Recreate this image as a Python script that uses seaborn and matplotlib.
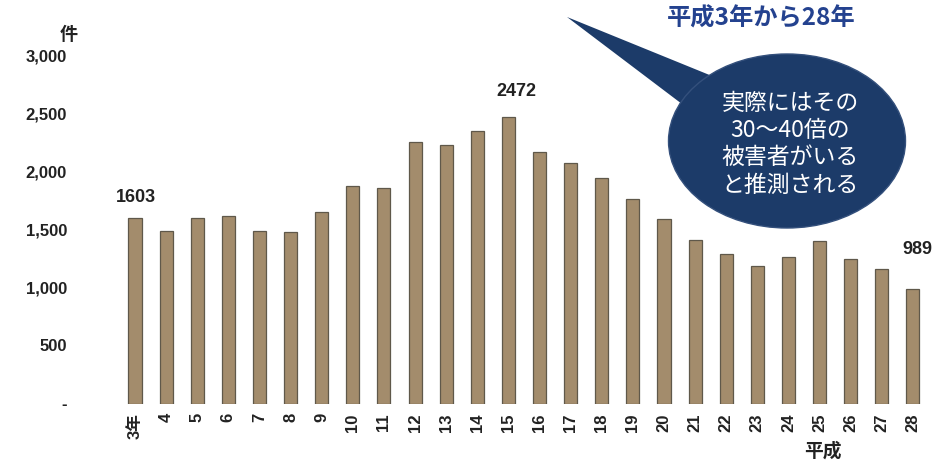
import matplotlib
matplotlib.use("Agg")
import matplotlib.pyplot as plt
import seaborn as sns
import pandas as pd
from matplotlib.patches import Ellipse, Polygon

# 認知件数（平成3年〜28年）
years = ["3年", "4", "5", "6", "7", "8", "9", "10", "11", "12", "13", "14", "15",
         "16", "17", "18", "19", "20", "21", "22", "23", "24", "25", "26", "27", "28"]
cases = [1603, 1490, 1600, 1615, 1487, 1478, 1651, 1875, 1858, 2254, 2228, 2349, 2472,
         2168, 2073, 1944, 1763, 1591, 1409, 1289, 1185, 1263, 1401, 1246, 1159, 989]
labeled_years = ["3年", "15", "28"]

y_ticks = [0, 500, 1000, 1500, 2000, 2500, 3000]
y_tick_labels = ["-", "500", "1,000", "1,500", "2,000", "2,500", "3,000"]

title_text = "平成3年から28年"
bubble_text = "実際にはその\n30～40倍の\n被害者がいる\nと推測される"
unit_text = "件"
era_text = "平成"

df = pd.DataFrame({"year": years, "cases": cases})

sns.set_theme(style="white")
plt.rcParams["font.family"] = ["Liberation Sans", "Noto Sans CJK JP", "DejaVu Sans"]

W, H = 952, 462
fig = plt.figure(figsize=(W / 100, H / 100), dpi=100)


def fx(px):
    return px / W


def fy(py):
    return 1 - py / H


ax = fig.add_axes([fx(110), fy(403.5), fx(940) - fx(110), fy(40) - fy(403.5)])

sns.barplot(data=df, x="year", y="cases", color="#a38c6c", saturation=1,
            width=0.42, edgecolor="#5f584a", linewidth=0.9, ax=ax)

ax.set_xlim(-0.804, 25.87)
ax.set_ylim(0, 3133)
sns.despine(ax=ax, left=True, bottom=True)
ax.set_xlabel("")
ax.set_ylabel("")
ax.tick_params(axis="both", length=0)
ax.tick_params(axis="x", pad=7)
ax.tick_params(axis="y", pad=31)

ax.set_yticks(y_ticks)
ax.set_yticklabels(y_tick_labels, fontsize=12, fontweight="bold", color="#222222",
                   family=["Liberation Sans", "DejaVu Sans"])
ax.set_xticks(range(len(years)))
ax.set_xticklabels(years, rotation=90, fontsize=12, fontweight="bold", color="#222222",
                   family=["Liberation Sans", "Noto Sans CJK JP"])

# value labels above selected bars (offsets in points)
label_offsets = {"3年": (1, 8), "15": (6, 12), "28": (3, 22)}
for yr in labeled_years:
    i = years.index(yr)
    val = cases[i]
    dx, dy = label_offsets[yr]
    ax.annotate(str(val), xy=(i, val), xytext=(dx, dy), textcoords="offset points",
                ha="center", va="bottom", fontsize=13, fontweight="bold",
                color="#222222", family=["Liberation Sans", "DejaVu Sans"])

# unit and era labels
fig.text(fx(69), fy(35), unit_text, ha="center", va="center", fontsize=13,
         fontweight="bold", color="#222222", family=["Noto Sans CJK JP"])
fig.text(fx(823), fy(451), era_text, ha="center", va="center", fontsize=13.5,
         fontweight="bold", color="#222222", family=["Noto Sans CJK JP"])

# title
fig.text(fx(761), fy(19), title_text, ha="center", va="center", fontsize=17.5,
         fontweight="bold", color="#24428f", family=["Noto Sans CJK JP", "DejaVu Sans"])

# speech bubble
bubble_color = "#1c3b69"
tail = Polygon([(fx(567), fy(17)), (fx(712), fy(76)), (fx(682), fy(104))],
               closed=True, transform=fig.transFigure, facecolor=bubble_color,
               edgecolor="none", zorder=5)
ellipse = Ellipse((fx(787), fy(141)), width=237 / W, height=174 / H,
                  transform=fig.transFigure, facecolor=bubble_color,
                  edgecolor="#34507c", linewidth=1.0, zorder=6)
fig.add_artist(tail)
fig.add_artist(ellipse)
fig.text(fx(790), fy(144), bubble_text, ha="center", va="center", fontsize=16.5,
         color="white", linespacing=1.24, zorder=7,
         family=["Noto Sans CJK JP", "DejaVu Sans"])

fig.savefig("out.png", dpi=100, facecolor="white")
